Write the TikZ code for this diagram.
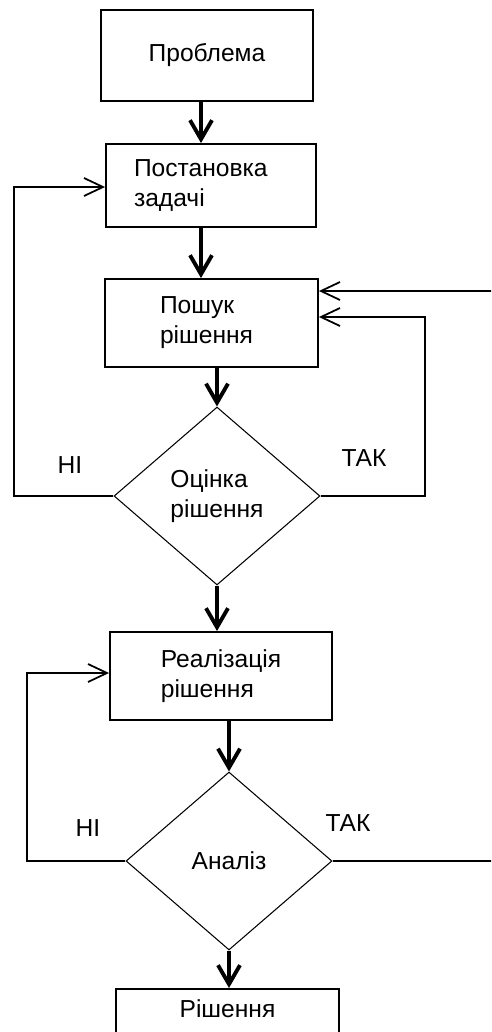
\documentclass[tikz,border=0pt]{standalone}
\usepackage{fontspec}
\setmainfont{Liberation Sans}
\usetikzlibrary{shapes.geometric,arrows.meta}

\begin{document}
\begin{tikzpicture}[x=0.02cm,y=-0.02cm,
  font=\fontsize{14}{17}\selectfont,
  box/.style={draw,line width=1.1pt,align=left,inner sep=0pt},
  dia/.style={draw,diamond,line width=0.6pt,align=left,inner sep=0pt,
              minimum width=4.12cm,minimum height=3.56cm},
  main/.style={line width=2.2pt,-{Straight Barb[length=0.38cm,width=0.44cm]}},
  back/.style={line width=1pt,-{Straight Barb[length=0.38cm,width=0.36cm]}},
  lbl/.style={inner sep=0pt}]
\useasboundingbox (0,0) rectangle (491,1032);
\clip (0,0) rectangle (491,1032);

% process steps
\node[box,minimum width=4.24cm,minimum height=1.82cm] (prob) at (207,55.5) {Проблема};
\node[box,minimum width=4.2cm,minimum height=1.66cm,text width=3.08cm] (task) at (211,185.5) {Постановка\\задачі};
\node[box,minimum width=4.26cm,minimum height=1.76cm,text width=2.06cm] (search) at (211.5,323) {Пошук\\рішення};
\node[dia] (eval) at (217,496) {Оцінка\\рішення};
\node[box,minimum width=4.44cm,minimum height=1.76cm] (impl) at (221,676) {Реалізація\\рішення};
\node[dia] (anal) at (229,861) {Аналіз};
\node[box,anchor=north,minimum width=4.46cm,text height=0.36cm,text depth=1.4cm,
      inner ysep=0.22cm] (sol) at (227.5,988) {Рішення};

% branch labels
\node[lbl] (no1) at (70,465) {НІ};
\node[lbl] (yes1) at (364,458) {ТАК};
\node[lbl] (no2) at (88,828) {НІ};
\node[lbl] (yes2) at (348,823) {ТАК};

% main flow
\coordinate (col1) at (201,0);
\draw[main] (prob.south -| col1) -- (task.north -| col1);
\draw[main] (task.south -| col1) -- (search.north -| col1);
\draw[main] (search.south -| eval.north) -- (eval.north);
\draw[main] (eval.south) -- (impl.north -| eval.south);
\draw[main] (impl.south -| anal.north) -- (anal.north);
\draw[main] (anal.south) -- (sol.north -| anal.south);

% feedback loops
\coordinate (nl1) at (14,187);
\draw[back] (eval.west) -| (nl1) -- (task.west |- nl1);
\coordinate (yl1) at (425,317);
\draw[back] (eval.east) -| (yl1) -- (search.east |- yl1);
\coordinate (yl2) at (530,291);
\draw[back] (anal.east) -| (yl2) -- (search.east |- yl2);
\coordinate (nl2) at (27,673);
\draw[back] (anal.west) -| (nl2) -- (impl.west |- nl2);
\end{tikzpicture}
\end{document}
